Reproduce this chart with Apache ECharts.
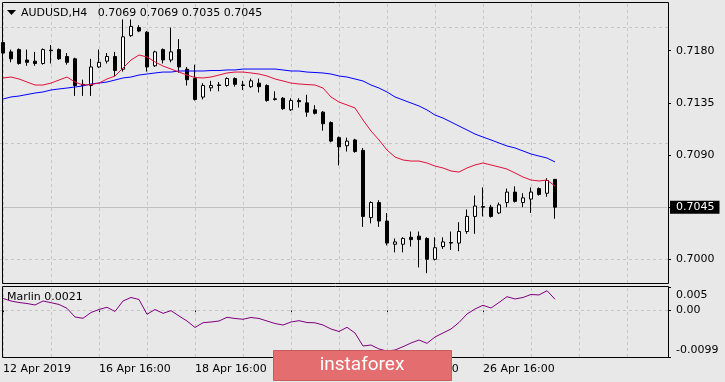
<!DOCTYPE html>
<html><head><meta charset="utf-8">
<script src="https://cdn.jsdelivr.net/npm/echarts@6/dist/echarts.min.js"></script>
<style>html,body{margin:0;padding:0;background:#e8e8e8;}#c{width:725px;height:382px;}</style>
</head><body><div id="c"></div>
<script>
const symbolName = 'AUDUSD,H4';
const marlinCaption = 'Marlin 0.0021';
const tickLabels = ['12 Apr 2019', '16 Apr 16:00', '18 Apr 16:00', '22 Apr 16:00', '24 Apr 16:00', '26 Apr 16:00'];
const labelEvery = 12;
const gridEvery = 6;
const barSlots = 84;
const priceTicks = [0.7000, 0.7045, 0.7090, 0.7135, 0.7180];
const marlinTicks = [-0.0099, 0, 0.005];

const opens = [0.7187,0.7179,0.7181,0.7172,0.7171,0.7169,0.71805,0.7181,0.7175,0.7173,
0.7151,0.7150,0.7166,0.7171,0.7175,0.7164,0.7193,0.7200,0.7196,0.7167,
0.7181,0.7172,0.7181,0.7164,0.7156,0.7140,0.7148,0.7150,0.7150,0.7156,
0.71505,0.7149,0.7152,0.7150,0.71385,0.7139,0.7129,0.7137,0.7135,0.7129,
0.7127,0.7118,0.7105,0.7098,0.7103,0.7094,0.7036,0.7049,0.7033,0.7013,
0.7013,0.7019,0.7020,0.7018,0.7000,0.7011,0.70145,0.7014,0.7024,0.7037,
0.70455,0.7045,0.7040,0.7049,0.7058,0.7049,0.7052,0.7061,0.7057,0.7069];
const highs = [0.7189,0.7181,0.7182,0.7181,0.7179,0.7182,0.7185,0.7182,0.7178,0.7174,
0.7155,0.7173,0.7181,0.7178,0.7179,0.7207,0.7207,0.7202,0.7197,0.7180,
0.7182,0.7200,0.7190,0.7166,0.7168,0.7152,0.7154,0.7153,0.7157,0.7157,
0.7154,0.7156,0.7156,0.7151,0.7145,0.7140,0.7139,0.7139,0.7142,0.7133,
0.7128,0.7119,0.7106,0.7105,0.7104,0.7096,0.7050,0.7051,0.7040,0.7018,
0.7019,0.7024,0.7024,0.7019,0.7019,0.7019,0.7024,0.7032,0.7043,0.7055,
0.7062,0.7047,0.7049,0.7061,0.7063,0.7057,0.7062,0.7062,0.7070,0.7069];
const lows = [0.7175,0.7170,0.7168,0.7167,0.7167,0.7168,0.7169,0.7172,0.7168,0.7141,
0.7141,0.7141,0.7165,0.7169,0.7158,0.7162,0.7192,0.7196,0.7162,0.7166,
0.7169,0.7170,0.7161,0.7150,0.7137,0.7138,0.7145,0.7145,0.7149,0.7149,
0.7146,0.7148,0.7144,0.7136,0.7137,0.7129,0.7128,0.7131,0.7123,0.7125,
0.7111,0.7101,0.7081,0.7093,0.7092,0.7028,0.7031,0.7028,0.7012,0.7006,
0.7006,0.7011,0.6993,0.6988,0.6999,0.7009,0.7008,0.7007,0.7022,0.7022,
0.7037,0.7036,0.7039,0.7045,0.7049,0.7045,0.7040,0.7055,0.7054,0.7035];
const closes = [0.7178,0.7173,0.7169,0.7170,0.7169,0.7181,0.7180,0.7173,0.7170,0.7150,
0.7150,0.7166,0.7170,0.7175,0.7163,0.7192,0.7201,0.7197,0.7166,0.7179,
0.7172,0.7179,0.7166,0.7155,0.7138,0.7150,0.7150,0.71505,0.7156,0.7151,
0.7150,0.7154,0.7149,0.7137,0.7138,0.7130,0.7137,0.7136,0.7127,0.7126,
0.7117,0.7102,0.7097,0.7102,0.7093,0.7037,0.7049,0.7033,0.7014,0.7015,
0.7018,0.7017,0.7017,0.7000,0.7010,0.7015,0.7014,0.7024,0.7037,0.7046,
0.7045,0.7037,0.7047,0.7058,0.7050,0.7053,0.7058,0.7056,0.7068,0.7045];

const maFast = [0.71565,0.71573,0.71556,0.71530,0.71504,0.71504,0.71521,0.71547,0.71573,0.71530,
0.71504,0.71508,0.71521,0.71556,0.71582,0.71651,0.71720,0.71763,0.71746,0.71703,
0.71668,0.71642,0.71616,0.71590,0.71569,0.71565,0.71573,0.71590,0.71608,0.71616,
0.71616,0.71608,0.71599,0.71582,0.71556,0.71539,0.71521,0.71513,0.71508,0.71504,
0.71478,0.71401,0.71357,0.71332,0.71306,0.71202,0.71107,0.71030,0.70943,0.70883,
0.70857,0.70848,0.70848,0.70831,0.70805,0.70788,0.70762,0.70753,0.70788,0.70814,
0.70831,0.70814,0.70797,0.70779,0.70745,0.70710,0.70684,0.70676,0.70684,0.70632];
const maSlow = [0.71383,0.71401,0.71409,0.71422,0.71435,0.71444,0.71461,0.71470,0.71478,0.71487,
0.71496,0.71513,0.71521,0.71530,0.71547,0.71565,0.71573,0.71590,0.71599,0.71608,
0.71616,0.71616,0.71625,0.71625,0.71625,0.71625,0.71629,0.71629,0.71634,0.71634,
0.71642,0.71642,0.71642,0.71642,0.71642,0.71634,0.71625,0.71625,0.71616,0.71612,
0.71608,0.71599,0.71582,0.71573,0.71556,0.71539,0.71504,0.71478,0.71444,0.71401,
0.71375,0.71349,0.71323,0.71289,0.71245,0.71219,0.71185,0.71150,0.71116,0.71081,
0.71055,0.71030,0.71004,0.70978,0.70961,0.70935,0.70909,0.70891,0.70874,0.70840];
const marlin = [0.00256,0.00202,0.00170,0.00149,0.00117,0.00202,0.00166,0.00128,0.00047,-0.00138,
-0.00166,-0.00043,0.00021,0.00068,-0.00021,0.00202,0.00277,0.00234,-0.00081,0.00021,
-0.00060,-0.00004,-0.00117,-0.00224,-0.00362,-0.00260,-0.00245,-0.00224,-0.00145,-0.00170,
-0.00187,-0.00149,-0.00170,-0.00224,-0.00277,-0.00309,-0.00245,-0.00217,-0.00256,-0.00262,
-0.00309,-0.00394,-0.00447,-0.00358,-0.00479,-0.00756,-0.00735,-0.00820,-0.00863,-0.00841,
-0.00771,-0.00692,-0.00628,-0.00699,-0.00564,-0.00479,-0.00394,-0.00256,-0.00075,0.00032,
0.00111,0.00053,0.00170,0.00294,0.00245,0.00277,0.00341,0.00330,0.00422,0.00239];

const FONT = 'DejaVu Sans';
const cats = Array.from({length: barSlots}, (_, i) => String(i));
const candleData = opens.map((o, i) => [o, closes[i], lows[i], highs[i]]);
const last = opens.length - 1;
const titleText = symbolName + '   ' + [opens[last], highs[last], lows[last], closes[last]].map(v => v.toFixed(4)).join(' ');
const vertLines = [];
for (let i = 0; i < barSlots - 1; i += gridEvery) vertLines.push({xAxis: i});
const gridStyle = {color: '#c6c6c6', type: [3, 3], width: 1};
const showLabel = (idx) => idx % labelEvery === 0 && idx / labelEvery < tickLabels.length;

const chart = echarts.init(document.getElementById('c'), null, {renderer: 'canvas'});
chart.setOption({
  backgroundColor: '#e8e8e8',
  animation: false,
  grid: [
    {left: -1, top: 2, width: 672, height: 281, show: false, containLabel: false, outerBoundsMode: 'none'},
    {left: -1, top: 287, width: 672, height: 70, show: false, containLabel: false, outerBoundsMode: 'none'}
  ],
  xAxis: [
    {type: 'category', gridIndex: 0, data: cats, boundaryGap: true, show: false},
    {type: 'category', gridIndex: 1, data: cats, boundaryGap: true,
      axisLine: {show: false},
      axisTick: {show: true, alignWithLabel: true, interval: (i) => showLabel(i), length: 3, lineStyle: {color: '#000'}},
      axisLabel: {interval: (i) => showLabel(i), formatter: (v, i) => showLabel(i) ? tickLabels[i / labelEvery] : '',
        align: 'left', color: '#000', fontFamily: FONT, fontSize: 11, margin: 7},
      splitLine: {show: false}}
  ],
  yAxis: [
    {type: 'value', gridIndex: 0, position: 'right', offset: -3, min: 0.697955, max: 0.722205, scale: true,
      axisLine: {show: false},
      axisTick: {show: true, length: 3, customValues: priceTicks, lineStyle: {color: '#000'}},
      axisLabel: {customValues: priceTicks, formatter: v => v.toFixed(4), color: '#000', fontFamily: FONT, fontSize: 11, margin: 8},
      splitLine: {show: false}},
    {type: 'value', gridIndex: 1, position: 'right', offset: -3, min: -0.0099, max: 0.005,
      axisLine: {show: false},
      axisTick: {show: true, length: 3, customValues: marlinTicks, lineStyle: {color: '#000'}},
      axisLabel: {customValues: marlinTicks, color: '#000', fontFamily: FONT, fontSize: 11, margin: 8,
        formatter: v => v > 0 ? '{t|' + v.toFixed(3) + '}' : (v < 0 ? '{b|' + v.toFixed(4) + '}' : '{m|0.00}'),
        rich: {t: {padding: [17, 0, 0, 0], fontFamily: FONT, fontSize: 11, color: '#000'},
               b: {padding: [0, 0, 14, 0], fontFamily: FONT, fontSize: 11, color: '#000'},
               m: {fontFamily: FONT, fontSize: 11, color: '#000'}}},
      splitLine: {show: false}}
  ],
  series: [
    {type: 'line', xAxisIndex: 0, yAxisIndex: 0, data: maSlow, symbol: 'none', z: 3, silent: true,
      lineStyle: {color: '#0000ff', width: 1},
      markLine: {z: 1, silent: true, symbol: 'none', animation: false, label: {show: false}, lineStyle: gridStyle,
        data: vertLines.concat(priceTicks.map(v => ({yAxis: v})))}},
    {type: 'line', xAxisIndex: 0, yAxisIndex: 0, data: maFast, symbol: 'none', z: 3, silent: true,
      lineStyle: {color: '#e0103c', width: 1}},
    {type: 'candlestick', xAxisIndex: 0, yAxisIndex: 0, data: candleData, barWidth: 4, z: 2, silent: true,
      itemStyle: {color: '#ffffff', color0: '#000000', borderColor: '#000000', borderColor0: '#000000', borderWidth: 1},
      markLine: {z: 1.5, silent: true, symbol: 'none', animation: false,
        lineStyle: {color: '#c0c0c0', type: 'solid', width: 1},
        label: {show: true, position: 'end', distance: 3, formatter: () => closes[last].toFixed(4),
          backgroundColor: '#000', color: '#fff', padding: [1, 5, 0, 6], fontFamily: FONT, fontSize: 11, lineHeight: 12},
        data: [[{coord: [0, closes[last]]}, {coord: [barSlots - 1, closes[last]]}]]}},
    {type: 'line', xAxisIndex: 1, yAxisIndex: 1, data: marlin, symbol: 'none', z: 3, silent: true,
      lineStyle: {color: '#800080', width: 1},
      markLine: {z: 1, silent: true, symbol: 'none', animation: false, label: {show: false}, lineStyle: gridStyle,
        data: vertLines.concat([{yAxis: 0}])}}
  ],
  graphic: [
    {type: 'rect', silent: true, z: 100, shape: {x: 2.5, y: 2.5, width: 666, height: 281},
      style: {fill: null, stroke: '#000', lineWidth: 1}},
    {type: 'rect', silent: true, z: 100, shape: {x: 2.5, y: 286.5, width: 666, height: 71},
      style: {fill: null, stroke: '#000', lineWidth: 1}},
    {type: 'polygon', silent: true, z: 100, shape: {points: [[7, 10], [16, 10], [11.5, 15]]}, style: {fill: '#000'}},
    {type: 'text', silent: true, z: 100, x: 21, y: 13,
      style: {text: titleText, fontFamily: FONT, fontSize: 11, fill: '#000', align: 'left', verticalAlign: 'middle'}},
    {type: 'text', silent: true, z: 100, x: 7, y: 297,
      style: {text: marlinCaption, fontFamily: FONT, fontSize: 11, fill: '#000', align: 'left', verticalAlign: 'middle'}},
    {type: 'rect', silent: true, z: 200, shape: {x: 273.5, y: 350.5, width: 178, height: 30},
      style: {fill: '#e46d70', stroke: '#c95b5e', lineWidth: 1}},
    {type: 'text', silent: true, z: 201, x: 362, y: 365,
      style: {text: 'instaforex', fontFamily: 'Roboto', fontSize: 19, fill: '#ffffff', align: 'center', verticalAlign: 'middle'}}
  ]
});
</script>
</body></html>
